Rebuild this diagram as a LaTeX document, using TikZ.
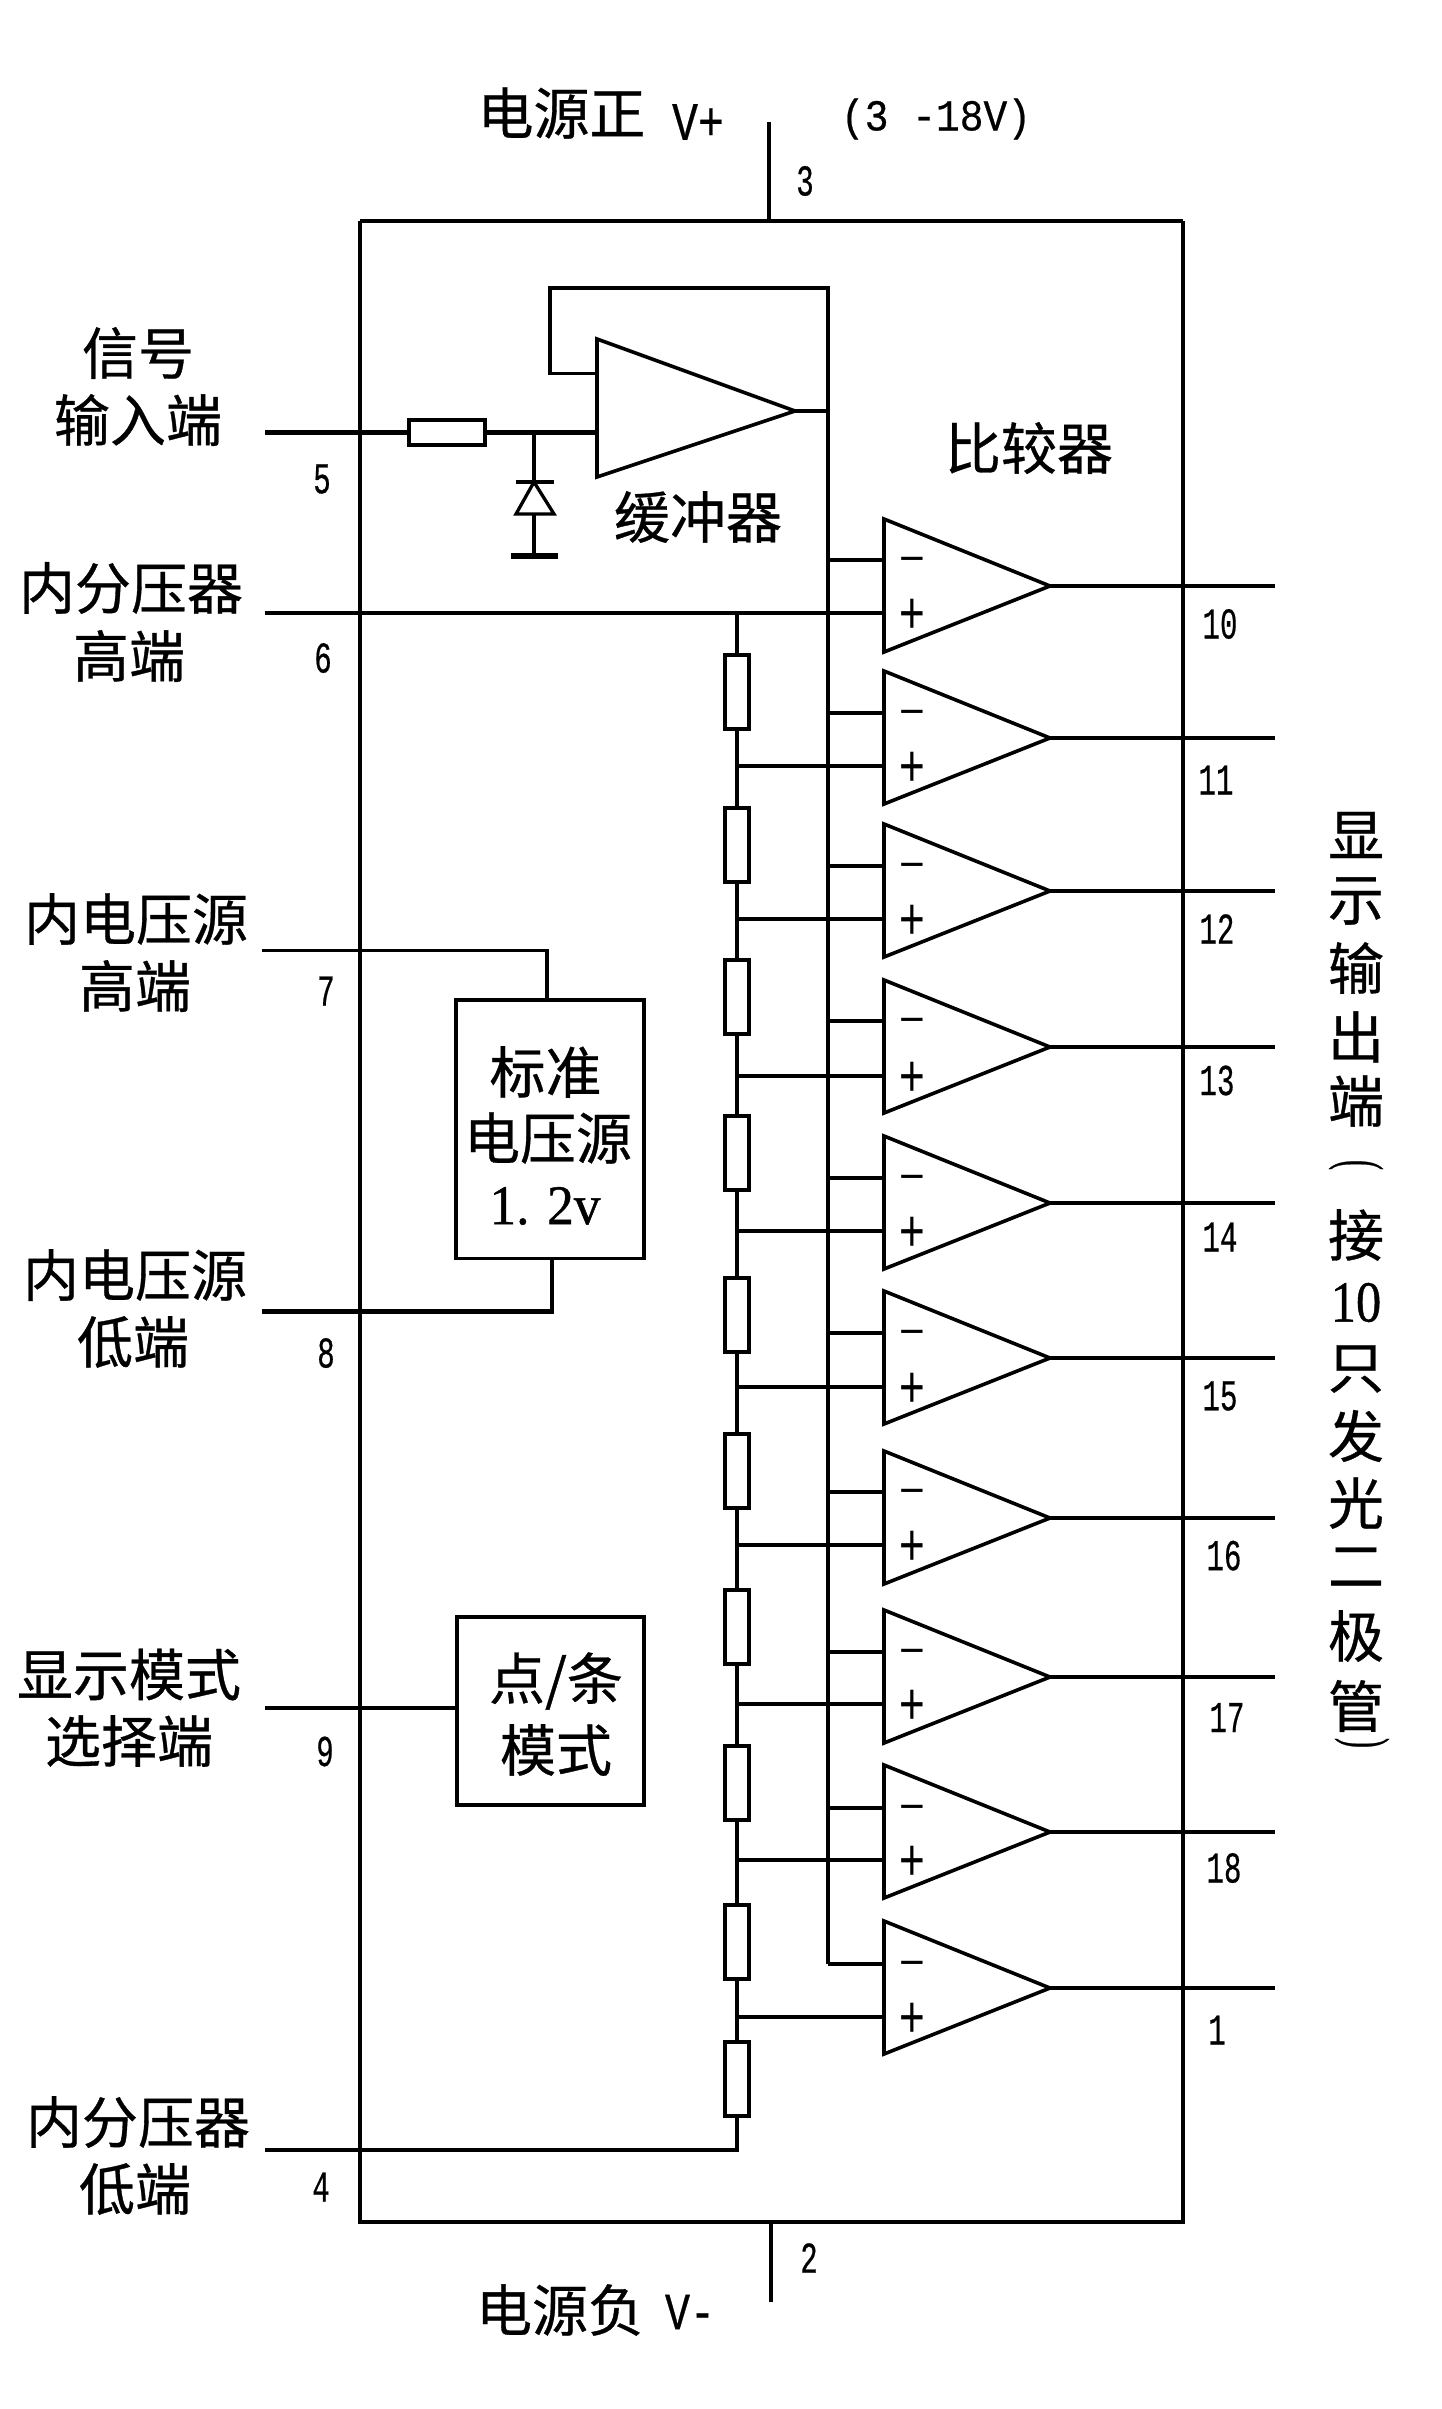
\documentclass[tikz,border=0pt]{standalone}
\usepackage{fontspec}
\setmainfont{Noto Sans CJK SC}[FakeBold=0.6]
\newfontfamily\pinfont{Liberation Mono}[FakeBold=0.6]
\newfontfamily\serfont{Liberation Serif}[FakeBold=0.8]
\newfontfamily\signfont{Liberation Sans}
\newcommand{\pinnum}[1]{\scalebox{0.66}[1]{\fontsize{44}{48}\selectfont\pinfont #1}}
\tikzset{
  wire/.style={line width=3.3pt,line cap=butt,line join=miter},
  heavy/.style={line width=4.6pt,line join=miter},
  lab/.style={inner sep=0pt,outer sep=0pt,font=\fontsize{56}{60}\selectfont},
  pin/.style={inner sep=0pt,outer sep=0pt},
  res/.style={draw,line width=4pt,fill=white,inner sep=0pt,outer sep=0pt,minimum width=24pt,minimum height=74pt},
  blockbox/.style={draw,line width=3.6pt,inner sep=0pt,outer sep=0pt},
  amp/.style={line width=3.6pt,line join=miter},
  signm/.style={inner sep=0pt,outer sep=0pt}
}
\begin{document}
\begin{tikzpicture}[x=1pt,y=-1pt]
\useasboundingbox (0,0) rectangle (1441,2409);
% outer chip
\coordinate (tl) at (360,221); \coordinate (tr) at (1183,221);
\coordinate (bl) at (360,2222); \coordinate (br) at (1183,2222);
\draw[wire] (tl) -- (bl) -- (br) -- (tr);
\draw[heavy] (tl) -- (tr);
\coordinate (vpin) at (769,122); \coordinate (vpinb) at (769,221);
\draw[wire] (vpin) -- (vpinb);
\coordinate (vnin) at (771,2222); \coordinate (vninb) at (771,2302);
\draw[wire] (vnin) -- (vninb);
% buffer
\coordinate (bt) at (597,339); \coordinate (bb) at (597,477); \coordinate (ba) at (795,411);
\draw[amp] (bt) -- (ba) -- (bb) -- cycle;
\coordinate (fbin) at (597,373.5); \coordinate (fb1) at (550,373.5); \coordinate (fb2) at (550,288);
\coordinate (fb3) at (828,288); \coordinate (fb4) at (828,1964);
\draw[wire] (fbin) -- (fb1) -- (fb2) -- (fb3) -- (fb4);
\coordinate (bo) at (828,411);
\draw[wire] (ba) -- (bo);
% input network
\coordinate (in5) at (265,432.5); \coordinate (bin) at (597,432.5); \coordinate (dj) at (534,432.5);
\node[res,minimum width=76pt,minimum height=25pt] (r0) at (447,432.5) {};
\draw[heavy] (in5) -- (r0.west);
\draw[heavy] (r0.east) -- (bin);
\coordinate (dk) at (534,482); \coordinate (db) at (534,514); \coordinate (dg) at (534,556);
\coordinate (dl) at (516,514); \coordinate (dr) at (554,514);
\coordinate (dkl) at (516,482); \coordinate (dkr) at (554,482);
\coordinate (gl) at (511,556); \coordinate (gr) at (558,556);
\draw[wire] (dj) -- (dk);
\draw[wire] (dk) -- (dl) -- (dr) -- cycle;
\draw[wire] (dkl) -- (dkr);
\draw[wire] (db) -- (dg);
\draw[line width=6pt] (gl) -- (gr);
% divider chain
\coordinate (top6) at (265,613); \coordinate (ch0) at (737,613); \coordinate (p6) at (884,613);
\draw[wire] (top6) -- (p6);
\foreach \i/\c in {1/691.5,2/844.5,3/996.5,4/1152.5,5/1314.5,6/1470.5,7/1627,8/1783,9/1942,10/2078.5}{
  \node[res] (r\i) at (737,\c) {};
}
\draw[wire] (ch0) -- (r1.north);
\foreach \i/\j in {1/2,2/3,3/4,4/5,5/6,6/7,7/8,8/9,9/10}{
  \draw[wire] (r\i.south) -- (r\j.north);
}
\coordinate (ch1) at (737,2150); \coordinate (low4) at (265,2150);
\draw[wire] (r10.south) -- (ch1) -- (low4);
% comparators
\foreach \i/\a/\m/\p/\mw/\pw/\ow in {
  1/586/560/613/4.5/3.3/3.3,
  2/738/713/766/3.3/4/3.6,
  3/891/866/919/4.5/3.6/4,
  4/1047/1021/1076/3.6/3.3/4,
  5/1203/1178/1231/3.6/4.5/3.6,
  6/1358/1333/1387/3.3/4.5/3.3,
  7/1518/1492/1545/3.3/4.5/4.6,
  8/1677/1652/1704/3.6/3.6/4.6,
  9/1832/1808/1860/3.6/3.3/4,
  10/1988/1964/2017/4/3.6/3.3}{
  \coordinate (ca\i) at (1050,\a);
  \coordinate (ct\i) at (884,\a-67);
  \coordinate (cb\i) at (884,\a+66);
  \coordinate (cm\i) at (884,\m);
  \coordinate (cmb\i) at (828,\m);
  \coordinate (cp\i) at (884,\p);
  \coordinate (cpb\i) at (737,\p);
  \coordinate (co\i) at (1275,\a);
  \draw[amp] (ct\i) -- (ca\i) -- (cb\i) -- cycle;
  \draw[line width=\mw pt] (cmb\i) -- (cm\i);
  \ifnum\i>1 \draw[line width=\pw pt] (cpb\i) -- (cp\i); \fi
  \draw[line width=\ow pt] (ca\i) -- (co\i);
  \node[signm] (sm\i) at (912,\m+5) {\fontsize{44}{48}\selectfont\signfont −};
  \node[signm] (sp\i) at (912,\p+3) {\scalebox{1.0}[1.35]{\fontsize{44}{48}\selectfont\signfont +}};
}
% voltage reference
\node[blockbox,minimum width=188pt,minimum height=258.5pt] (vref) at (550,1129.25) {};
\coordinate (l7) at (262,950.5); \coordinate (l7a) at (547,950.5); \coordinate (l7b) at (547,1000);
\draw[wire] (l7) -- (l7a) -- (l7b);
\coordinate (l8) at (262,1311.5); \coordinate (l8a) at (552,1311.5); \coordinate (l8b) at (552,1258.5);
\draw[heavy] (l8) -- (l8a) -- (l8b);
% mode box
\node[blockbox,minimum width=187pt,minimum height=188pt] (mode) at (550.5,1711) {};
\coordinate (l9) at (265,1708);
\draw[heavy] (l9) -- (l9 -| mode.west);
% labels
\node[lab] (t1) at (138,353) {信号};
\node[lab] (t2) at (138,420) {输入端};
\node[lab] (t3) at (131,588) {内分压器};
\node[lab] (t4) at (129,656) {高端};
\node[lab] (t5) at (136,919) {内电压源};
\node[lab] (t6) at (135,986) {高端};
\node[lab] (t7) at (135,1275) {内电压源};
\node[lab] (t8) at (133,1342) {低端};
\node[lab] (t9) at (129,1674.5) {显示模式};
\node[lab] (t10) at (129,1741) {选择端};
\node[lab] (t11) at (138,2122) {内分压器};
\node[lab] (t12) at (135,2189) {低端};
\node[lab] (t13) at (561.5,113) {电源正};
\node[lab] (t14) at (560,2310) {电源负};
\node[lab] (t15) at (1029,448) {比较器};
\node[lab] (t16) at (698,517) {缓冲器};
\node[lab] (t17) at (545.5,1072) {标准};
\node[lab] (t18) at (548,1138) {电压源};
\node[lab] (t19) at (545,1206) {\scalebox{0.95}[1]{\fontsize{56}{60}\selectfont\serfont 1. 2v}};
\node[lab] (t20) at (556,1681) {点/条};
\node[lab] (t21) at (556,1750) {模式};
\node[pin] (t22) at (698,122) {\scalebox{0.8}[1]{\fontsize{54}{58}\selectfont\pinfont V+}};
\node[pin] (t23) at (690,2312) {\scalebox{0.8}[1]{\fontsize{52}{56}\selectfont\pinfont V-}};
\node[pin] (t24) at (936,119) {\scalebox{0.9}[1]{\fontsize{44}{48}\selectfont\pinfont (3 -18V)}};
% pin numbers
\foreach \n/\x/\y in {5/322/479,6/323/658,7/326/991,8/326/1353,9/325/1751.5,4/321/2187,3/805/181,2/809/2258,
  10/1220/624,11/1216/780,12/1217/929,13/1217/1080.5,14/1220/1237,15/1220/1396,16/1224/1555.6,17/1227/1717.5,18/1224/1868,1/1217/2030}{
  \node[pin] (pin\n) at (\x,\y) {\pinnum{\n}};
}
% vertical text
\foreach \k/\t/\y in {a/显/835,b/示/901,c/输/968,d/出/1037,e/端/1101,g/接/1235,i/只/1369,j/发/1436,k/光/1503,l/二/1567,m/极/1636,n/管/1706}{
  \node[lab] (v\k) at (1356,\y) {\t};
}
\node[lab,rotate=-90] (vf) at (1356,1165) {\scalebox{0.5}[1.0]{\fontsize{60}{64}\selectfont\serfont (}};
\node[lab] (vh) at (1356,1302.5) {\scalebox{0.87}[1]{\fontsize{58}{60}\selectfont\serfont 10}};
\node[lab,rotate=-90] (vo) at (1362,1743) {\scalebox{0.5}[1.0]{\fontsize{60}{64}\selectfont\serfont )}};
\end{tikzpicture}
\end{document}
